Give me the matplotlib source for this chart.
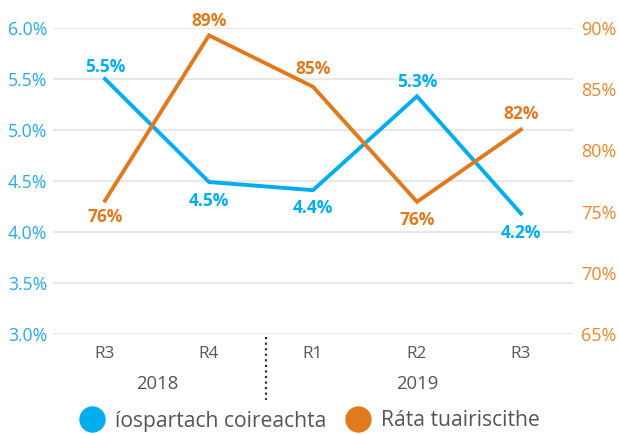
import matplotlib
matplotlib.use("Agg")
import matplotlib.pyplot as plt
from matplotlib.lines import Line2D

plt.rcParams['font.family'] = ['Open Sans', 'DejaVu Sans']

quarters = ["R3", "R4", "R1", "R2", "R3"]
years = ["2018", "2019"]
crime_rate = [5.5, 4.49, 4.41, 5.33, 4.18]
crime_labels = ["5.5%", "4.5%", "4.4%", "5.3%", "4.2%"]
report_rate = [75.9, 89.4, 85.2, 75.8, 81.7]
report_labels = ["76%", "89%", "85%", "76%", "82%"]
left_ticks = [3.0, 3.5, 4.0, 4.5, 5.0, 5.5, 6.0]
right_ticks = [65, 70, 75, 80, 85, 90]
series_names = ["íospartach coireachta", "Ráta tuairiscithe"]

BLUE = "#00AEEF"
ORANGE = "#E07A1E"
BLUE_T = "#2AAAE2"
ORANGE_T = "#E8892F"
GREY = "#555555"

fig = plt.figure(figsize=(6.19, 4.34), dpi=100)
ax = fig.add_axes([53/619, 1-334/434, (573-53)/619, (334-28)/434])
ax2 = ax.twinx()

x = list(range(len(quarters)))
ax.set_xlim(-0.5, len(quarters)-0.5)
ax.set_ylim(3.0, 6.0)
ax2.set_ylim(65, 90)

for t in left_ticks:
    ax.axhline(t, color="#e8e8e8", lw=1.6, zorder=0)

ax.plot(x, crime_rate, color=BLUE, lw=2.8, solid_joinstyle='miter', zorder=3)
ax2.plot(x, report_rate, color=ORANGE, lw=2.8, solid_joinstyle='miter', zorder=3)

blue_offsets = [9, -14, -13, 10, -14]
for xi, v, lab, off in zip(x, crime_rate, crime_labels, blue_offsets):
    ax.annotate(lab, (xi, v), xytext=(0, off), textcoords="offset points",
                ha="center", va="center", color=BLUE, fontsize=12.5, fontweight="bold")
orange_offsets = [-12, 10, 13, -13, 11]
for xi, v, lab, off in zip(x, report_rate, report_labels, orange_offsets):
    ax2.annotate(lab, (xi, v), xytext=(0, off), textcoords="offset points",
                 ha="center", va="center", color=ORANGE, fontsize=12.5, fontweight="bold")

ax.set_yticks(left_ticks)
ax.set_yticklabels([f"{t:.1f}%" for t in left_ticks], color=BLUE_T, fontsize=12.7)
ax2.set_yticks(right_ticks)
ax2.set_yticklabels([f"{t}%" for t in right_ticks], color=ORANGE_T, fontsize=13)
ax.tick_params(axis='y', length=0, pad=4)
ax2.tick_params(axis='y', length=0, pad=6)

ax.set_xticks(x)
ax.set_xticklabels(quarters, color=GREY, fontsize=12.3)
ax.tick_params(axis='x', length=0, pad=9)

for a in (ax, ax2):
    for s in a.spines.values():
        s.set_visible(False)

# year labels
ax.text(0.5, -0.165, years[0], transform=ax.get_xaxis_transform(), ha="center", va="center",
        color=GREY, fontsize=13.3)
ax.text(3.0, -0.165, years[1], transform=ax.get_xaxis_transform(), ha="center", va="center",
        color=GREY, fontsize=13.3)
# separator
ax.plot([1.55, 1.55], [-0.01, -0.215], transform=ax.get_xaxis_transform(), clip_on=False,
        color="#333333", lw=1.6, ls=(0, (1, 1.5)))

handles = [Line2D([], [], marker='o', ls='', markersize=18, color=BLUE),
           Line2D([], [], marker='o', ls='', markersize=18, color=ORANGE)]
leg = fig.legend(handles, series_names, loc="center", bbox_to_anchor=(0.5, 1-421/434),
                 ncol=2, frameon=False, fontsize=15.2, handletextpad=0.5, columnspacing=0.9,
                 handlelength=1.2, labelcolor=GREY, borderaxespad=0)

fig.savefig("out.png", dpi=100)
